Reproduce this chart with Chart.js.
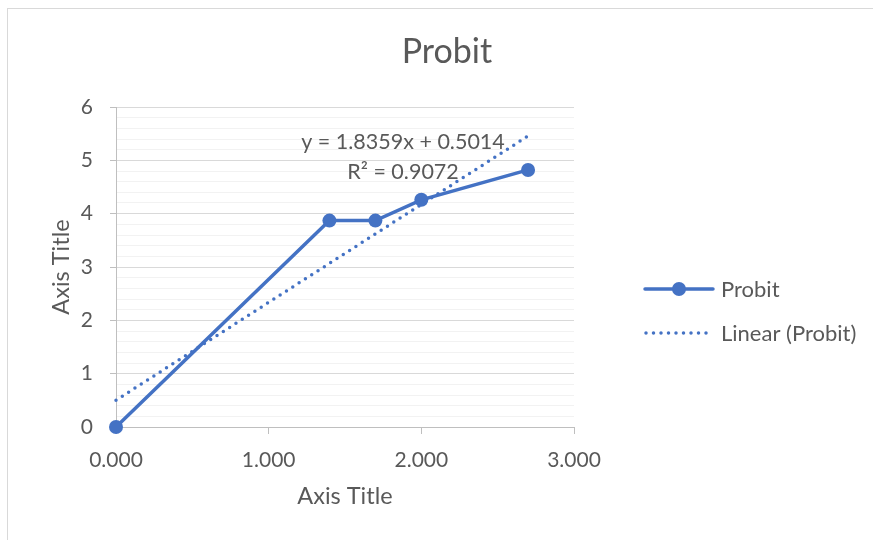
<!DOCTYPE html>
<html>
<head>
    <title>Probit</title>
    <script src="https://cdn.jsdelivr.net/npm/chart.js"></script>
    <style>
        html, body { margin: 0; padding: 0; background: #fff; }
        #wrap { width: 873px; height: 540px; position: relative; }
    </style>
</head>
<body>
    <div id="wrap"><canvas id="chart" width="873" height="540"></canvas></div>

    <script>
        // data
        const logDose = [0, 1.398, 1.699, 2.0, 2.699];
        const probit = [0, 3.87, 3.87, 4.26, 4.82];
        const trendSlope = 1.8359;
        const trendIntercept = 0.5014;
        const xTicks = [0, 1, 2, 3];
        const yTicks = [0, 1, 2, 3, 4, 5, 6];
        const eqLines = ['y = 1.8359x + 0.5014', 'R² = 0.9072'];

        const blue = '#4472C4';
        const textGrey = '#595959';
        const fontName = 'Lato, "Open Sans", sans-serif';

        const points = logDose.map((x, i) => ({ x: x, y: probit[i] }));
        const xMin = Math.min(...logDose), xMax = Math.max(...logDose);
        const trend = [
            { x: xMin, y: trendSlope * xMin + trendIntercept },
            { x: xMax, y: trendSlope * xMax + trendIntercept }
        ];

        function isMajor(v) {
            return Math.abs(v - Math.round(v)) < 1e-6;
        }

        const extras = {
            id: 'extras',
            beforeDraw(chart) {
                const c = chart.ctx;
                c.save();
                c.fillStyle = '#fff';
                c.fillRect(0, 0, chart.width, chart.height);
                c.strokeStyle = '#d9d9d9';
                c.lineWidth = 1;
                c.strokeRect(7.5, 8.5, chart.width + 10, chart.height + 10);
                c.restore();
            },
            afterDraw(chart) {
                const c = chart.ctx;
                const xs = chart.scales.x, ys = chart.scales.y;
                c.save();
                c.fillStyle = textGrey;
                c.textAlign = 'center';
                c.textBaseline = 'middle';
                c.font = '34px ' + fontName;
                c.fillText('Probit', 447, 52);

                // trendline equation
                c.font = '21.5px ' + fontName;
                const ex = xs.getPixelForValue(1.88);
                c.fillText(eqLines[0], ex, ys.getPixelForValue(5.34));
                c.fillText(eqLines[1], ex, ys.getPixelForValue(4.78));

                // legend
                const lx0 = 645, lx1 = 713;
                c.strokeStyle = blue;
                c.lineWidth = 3.5;
                c.lineCap = 'round';
                c.beginPath();
                c.moveTo(lx0, 289); c.lineTo(lx1, 289);
                c.stroke();
                c.fillStyle = blue;
                c.beginPath();
                c.arc(679, 289, 7, 0, Math.PI * 2);
                c.fill();
                c.lineWidth = 3.5;
                c.setLineDash([0, 7.5]);
                c.beginPath();
                c.moveTo(lx0 + 1, 333); c.lineTo(lx1, 333);
                c.stroke();
                c.setLineDash([]);
                c.fillStyle = textGrey;
                c.textAlign = 'left';
                c.font = '22px ' + fontName;
                c.fillText('Probit', 721, 290);
                c.fillText('Linear (Probit)', 721, 334);
                c.restore();
            }
        };

        new Chart(document.getElementById('chart').getContext('2d'), {
            type: 'scatter',
            data: {
                datasets: [{
                    label: 'Probit',
                    data: points,
                    showLine: true,
                    borderColor: blue,
                    backgroundColor: blue,
                    borderWidth: 3.5,
                    pointRadius: 7,
                    pointHoverRadius: 7,
                    pointBorderWidth: 0,
                    clip: false,
                    order: 2
                }, {
                    label: 'Linear (Probit)',
                    data: trend,
                    showLine: true,
                    borderColor: blue,
                    borderWidth: 3.5,
                    borderDash: [0, 7.5],
                    borderCapStyle: 'round',
                    pointRadius: 0,
                    clip: false,
                    order: 1
                }]
            },
            options: {
                responsive: false,
                animation: false,
                layout: { padding: { left: 0, right: 299, top: 107, bottom: 29 } },
                plugins: {
                    legend: { display: false },
                    tooltip: { enabled: false }
                },
                scales: {
                    x: {
                        type: 'linear',
                        min: 0,
                        max: 3,
                        afterFit(s) { s.height = 84; },
                        afterBuildTicks(s) { s.ticks = xTicks.map(v => ({ value: v })); },
                        grid: {
                            drawOnChartArea: false,
                            tickLength: 7,
                            tickColor: '#bfbfbf'
                        },
                        border: { color: '#bfbfbf' },
                        ticks: {
                            padding: 14,
                            color: textGrey,
                            font: { family: fontName, size: 21 },
                            callback: v => v.toFixed(3)
                        },
                        title: {
                            display: true,
                            text: 'Axis Title',
                            color: textGrey,
                            font: { family: fontName, size: 23.5 },
                            padding: { top: 0, bottom: 0 }
                        }
                    },
                    y: {
                        min: 0,
                        max: 6,
                        afterFit(s) { s.width = 116; },
                        ticks: {
                            stepSize: 0.2,
                            autoSkip: false,
                            padding: 17,
                            color: textGrey,
                            font: { family: fontName, size: 21 },
                            callback: v => (isMajor(v) && yTicks.includes(Math.round(v))) ? String(Math.round(v)) : ''
                        },
                        grid: {
                            color: ctx => isMajor(ctx.tick.value) ? '#d9d9d9' : '#f2f2f2',
                            tickColor: ctx => isMajor(ctx.tick.value) ? '#bfbfbf' : 'rgba(0,0,0,0)',
                            tickLength: 6
                        },
                        border: { color: '#bfbfbf' },
                        title: {
                            display: true,
                            text: 'Axis Title',
                            color: textGrey,
                            font: { family: fontName, size: 23.5 },
                            padding: { top: 47, bottom: 0 }
                        }
                    }
                }
            },
            plugins: [extras]
        });
    </script>
</body>
</html>
